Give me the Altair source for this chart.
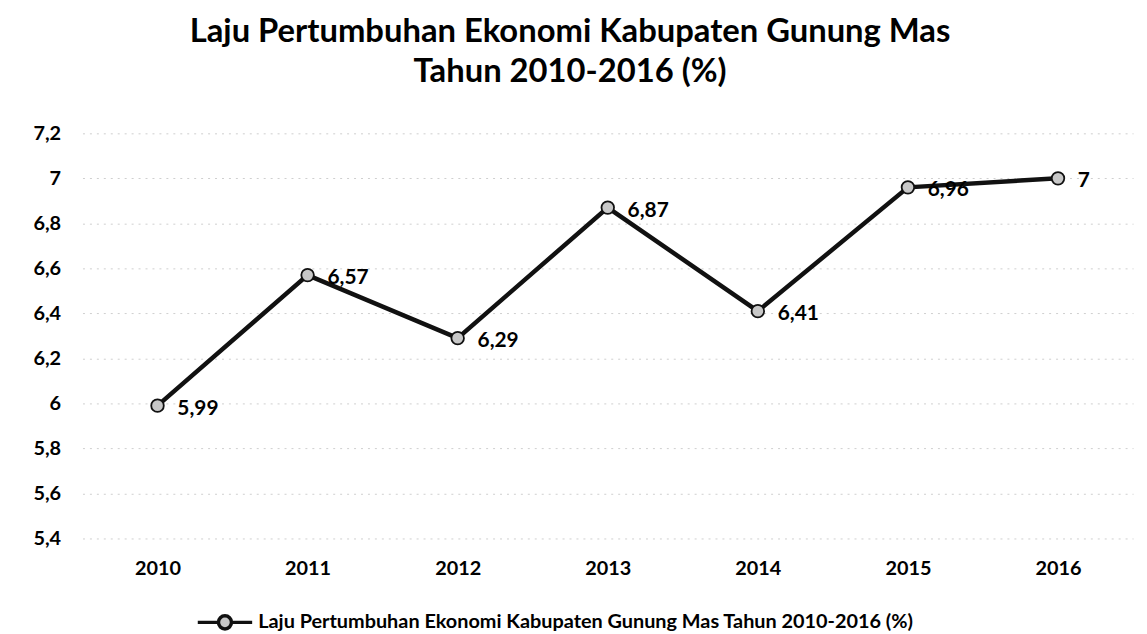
import altair as alt
import pandas as pd

years = ["2010", "2011", "2012", "2013", "2014", "2015", "2016"]
values = [5.99, 6.57, 6.29, 6.87, 6.41, 6.96, 7.00]
value_labels = ["5,99", "6,57", "6,29", "6,87", "6,41", "6,96", "7"]
y_ticks = [5.4, 5.6, 5.8, 6.0, 6.2, 6.4, 6.6, 6.8, 7.0, 7.2]
series_name = "Laju Pertumbuhan Ekonomi Kabupaten Gunung Mas Tahun 2010-2016 (%)"
title_lines = ["Laju Pertumbuhan Ekonomi Kabupaten Gunung Mas", "Tahun 2010-2016 (%)"]

df = pd.DataFrame({
    "year": years,
    "value": values,
    "label": value_labels,
    "series": [series_name] * len(years),
})

FONT = "Lato"

x_enc = alt.X("year:O", title=None,
              scale=alt.Scale(type="point", padding=0.5),
              axis=alt.Axis(labelAngle=0, labelFont=FONT, labelFontWeight="bold",
                            labelFontSize=20, labelColor="#000", labelPadding=20,
                            ticks=False, domain=False, grid=False))
y_enc = alt.Y("value:Q", title=None,
              scale=alt.Scale(domain=[5.4, 7.2], nice=False, zero=False),
              axis=alt.Axis(values=y_ticks, format="~g",
                            labelExpr="replace(datum.label, '.', ',')",
                            labelFont=FONT, labelFontWeight="bold", labelFontSize=20,
                            labelColor="#000", labelPadding=22, ticks=False, domain=False,
                            grid=True, gridColor="#cfcfcf", gridDash=[2, 5], gridWidth=1))

legend_symbol = ("M-1,0L-0.24,0M0.24,0L1,0"
                 "M-0.24,0A0.24,0.24 0 1,0 0.24,0A0.24,0.24 0 1,0 -0.24,0Z")

base = alt.Chart(df)

line = base.mark_line(strokeWidth=4.5).encode(
    x=x_enc, y=y_enc,
    color=alt.Color("series:N", scale=alt.Scale(range=["#111111"]),
                    legend=alt.Legend(title=None, orient="none", legendX=114, legendY=463,
                                      symbolType=legend_symbol, symbolSize=3000,
                                      symbolStrokeWidth=3.5, symbolFillColor="#c8c8c8",
                                      symbolStrokeColor="#111111",
                                      labelFont=FONT, labelFontWeight="bold",
                                      labelFontSize=20, labelColor="#000",
                                      labelOffset=4, labelLimit=1000)),
)

points = base.mark_point(filled=True, size=160, fill="#c8c8c8", stroke="#111111",
                         strokeWidth=1.8, opacity=1).encode(x=x_enc, y=y_enc)

labels = base.mark_text(align="left", baseline="middle", dx=20, dy=3,
                        font=FONT, fontWeight="bold", fontSize=21, color="#000").encode(
    x=x_enc, y=y_enc, text="label:N")

chart = alt.layer(line, points, labels).properties(
    width=1058, height=408,
    autosize=alt.AutoSizeParams(type="none"),
    padding={"left": 75, "top": 124, "right": 6, "bottom": 94},
    title=alt.TitleParams(text=title_lines, font=FONT, fontWeight="bold", fontSize=33,
                          color="#000", anchor="middle", dx=-38, offset=35, lineHeight=40),
).configure_view(stroke=None)

chart.save("out.html", embed_options={"renderer": "svg", "actions": False})
